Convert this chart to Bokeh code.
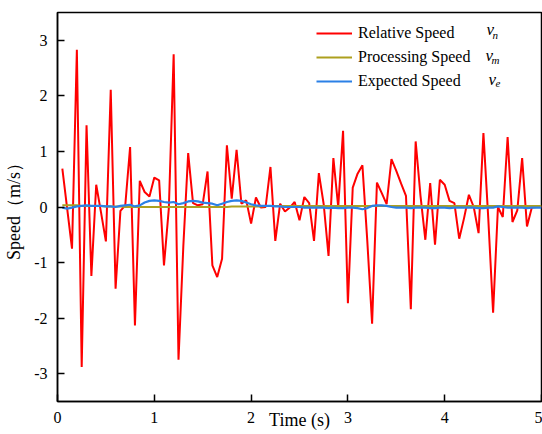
from bokeh.plotting import figure
from bokeh.models import Range1d, Legend, LegendItem, Label, FixedTicker
from bokeh.embed import file_html
from bokeh.resources import INLINE

# ---------------- data ----------------
time_s = [round(0.05 * k, 2) for k in range(1, 101)]

relative_speed = [
    0.69, -0.03, -0.75, 2.83, -2.88, 1.47, -1.24, 0.40, -0.10, -0.62,
    2.11, -1.47, -0.07, 0.03, 1.08, -2.13, 0.47, 0.27, 0.19, 0.53,
    0.48, -1.05, -0.03, 2.75, -2.75, -0.70, 0.97, 0.07, 0.03, 0.05,
    0.64, -1.05, -1.26, -0.93, 1.11, 0.15, 1.03, 0.06, 0.12, -0.30,
    0.17, -0.01, 0.00, 0.72, -0.61, 0.06, -0.08, -0.01, 0.09, -0.24,
    0.18, 0.07, -0.61, 0.61, 0.05, -0.88, 0.88, 0.00, 1.37, -1.73,
    0.35, 0.60, 0.75, -0.60, -2.10, 0.44, 0.25, 0.05, 0.86, 0.65,
    0.42, 0.20, -1.84, 1.18, 0.20, -0.59, 0.43, -0.68, 0.49, 0.40,
    0.11, 0.07, -0.57, -0.20, 0.22, 0.00, -0.47, 1.33, -0.20, -1.90,
    0.00, -0.18, 1.26, -0.27, -0.06, 0.88, -0.35, -0.01, 0.00, 0.00,
]

processing_speed = [
    0.03, 0.03, 0.03, 0.03, 0.02, 0.02, 0.02, 0.02, 0.02, 0.01,
    0.01, 0.01, 0.01, 0.00, 0.00, 0.00, 0.00, 0.00, 0.00, 0.00,
    0.00, 0.00, 0.00, 0.00, 0.00, 0.00, 0.00, 0.00, 0.00, 0.00,
    0.00, 0.00, 0.00, 0.00, 0.00, 0.01, 0.01, 0.01, 0.01, 0.01,
    0.01, 0.01, 0.02, 0.02, 0.02, 0.02, 0.02, 0.02, 0.02, 0.02,
    0.02, 0.02, 0.02, 0.02, 0.02, 0.02, 0.02, 0.02, 0.02, 0.02,
    0.02, 0.02, 0.02, 0.02, 0.02, 0.02, 0.02, 0.02, 0.02, 0.02,
    0.02, 0.02, 0.02, 0.02, 0.02, 0.02, 0.02, 0.02, 0.02, 0.02,
    0.02, 0.02, 0.02, 0.02, 0.02, 0.02, 0.02, 0.02, 0.02, 0.02,
    0.02, 0.02, 0.02, 0.02, 0.02, 0.02, 0.02, 0.02, 0.02, 0.02,
]

expected_speed = [
    -0.01, -0.03, -0.01, 0.01, 0.02, 0.03, 0.02, 0.02, 0.02, 0.01,
    0.01, 0.00, 0.02, 0.03, 0.04, 0.01, 0.03, 0.08, 0.11, 0.12,
    0.11, 0.09, 0.08, 0.09, 0.05, 0.07, 0.10, 0.11, 0.10, 0.08,
    0.07, 0.06, 0.03, 0.06, 0.09, 0.11, 0.12, 0.11, 0.08, 0.05,
    0.03, 0.02, 0.02, 0.02, 0.01, 0.01, 0.00, 0.00, 0.00, 0.00,
    -0.01, -0.01, -0.01, -0.01, -0.01, -0.02, -0.01, -0.02, -0.02, -0.01,
    -0.01, -0.02, -0.04, -0.02, 0.02, 0.03, 0.03, 0.02, 0.00, -0.01,
    -0.01, -0.01, -0.02, -0.01, -0.01, -0.01, -0.02, -0.02, -0.01, -0.01,
    -0.02, -0.01, -0.01, -0.01, -0.01, -0.01, -0.02, -0.02, -0.01, -0.01,
    0.01, 0.00, -0.01, -0.01, -0.01, -0.01, -0.02, -0.01, -0.01, -0.01,
]

x_ticks = [0, 1, 2, 3, 4, 5]
x_tick_labels = ["0", "1", "2", "3", "4", "5"]
y_ticks = [-3, -2, -1, 0, 1, 2, 3]
y_tick_labels = ["-3", "-2", "-1", "0", "1", "2", "3"]

x_title = "Time (s)"
y_title = "Speed（m/s）"
series_names = ["Relative Speed", "Processing Speed", "Expected Speed"]
series_symbols = [("v", "n"), ("v", "m"), ("v", "e")]
series_colors = ["#FF0000", "#ADA01E", "#2B80E6"]

SERIF = "Liberation Serif"

# ---------------- figure ----------------
p = figure(
    width=542, height=434,
    x_range=Range1d(0, 5), y_range=Range1d(-3.5, 3.5),
    output_backend="svg", toolbar_location=None,
    min_border_left=57, min_border_right=1,
    min_border_top=12, min_border_bottom=33,
    background_fill_color="white", border_fill_color="white",
)
p.xgrid.visible = False
p.ygrid.visible = False
p.outline_line_color = "black"
p.outline_line_width = 1.5
p.outline_line_alpha = 1.0

r_red = p.line(time_s, relative_speed, line_color=series_colors[0], line_width=2)
r_olive = p.line(time_s, processing_speed, line_color=series_colors[1], line_width=2)
r_blue = p.line(time_s, expected_speed, line_color=series_colors[2], line_width=2.2)

for ax, ticks, labels in ((p.xaxis[0], x_ticks, x_tick_labels), (p.yaxis[0], y_ticks, y_tick_labels)):
    ax.ticker = FixedTicker(ticks=ticks, minor_ticks=[])
    ax.major_label_overrides = {t: l for t, l in zip(ticks, labels)}
    ax.major_tick_in = 7
    ax.major_tick_out = 0
    ax.minor_tick_in = 0
    ax.minor_tick_out = 0
    ax.axis_line_width = 1.5
    ax.major_tick_line_width = 1.5
    ax.axis_line_color = "black"
    ax.major_tick_line_color = "black"
    ax.major_label_text_font = SERIF
    ax.major_label_text_font_size = "16px"
    ax.major_label_text_color = "black"
    ax.axis_label_text_font = SERIF
    ax.axis_label_text_font_size = "18px"
    ax.axis_label_text_font_style = "normal"
    ax.axis_label_text_color = "black"

p.xaxis[0].axis_label = x_title
p.xaxis[0].major_label_standoff = 10
p.xaxis[0].axis_label_standoff = -16
p.yaxis[0].axis_label = y_title
p.yaxis[0].major_label_standoff = 10
p.yaxis[0].axis_label_standoff = 7

legend = Legend(
    items=[LegendItem(label=n, renderers=[r]) for n, r in zip(series_names, [r_red, r_olive, r_blue])],
    location=(259, 310),
    label_text_font=SERIF, label_text_font_size="16px", label_text_color="black",
    glyph_width=36, glyph_height=20, label_height=20, spacing=4,
    padding=0, margin=0, label_standoff=6,
    background_fill_alpha=0, border_line_alpha=0,
)
p.add_layout(legend)

# italic symbols next to legend entries
sym_pos = [((429, 372), (435, 367)), ((428, 346), (434, 342)), ((431, 322), (438, 318))]
for (base, sub), ((bx, by), (sx, sy)) in zip(series_symbols, sym_pos):
    p.add_layout(Label(x=bx, y=by, x_units="screen", y_units="screen", text=base,
                       text_font=SERIF, text_font_style="italic", text_font_size="17px",
                       text_baseline="alphabetic", text_color="black"))
    p.add_layout(Label(x=sx, y=sy, x_units="screen", y_units="screen", text=sub,
                       text_font=SERIF, text_font_style="italic", text_font_size="11px",
                       text_baseline="alphabetic", text_color="black"))

open("out.html", "w").write(file_html(p, INLINE))
